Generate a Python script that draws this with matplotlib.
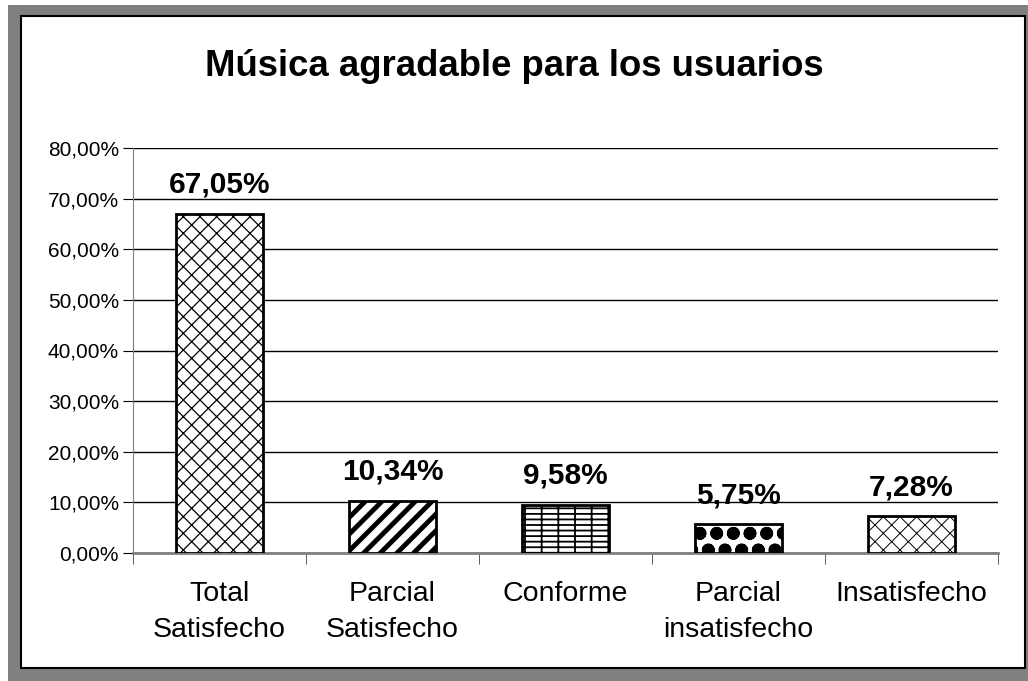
import matplotlib as mpl
import matplotlib.pyplot as plt
from matplotlib.patches import Rectangle
import numpy as np

plt.rcParams['font.family'] = ['Liberation Sans', 'DejaVu Sans']

categories = ['Total\nSatisfecho', 'Parcial\nSatisfecho', 'Conforme',
              'Parcial\ninsatisfecho', 'Insatisfecho']
values = [67.05, 10.34, 9.58, 5.75, 7.28]
labels = ['67,05%', '10,34%', '9,58%', '5,75%', '7,28%']
hatches = ['xx', '//', '---|', 'o', 'xx']
hatch_lw = [0.9, 3.5, 1.3, 4.5, 0.7]
yticks = [0, 10, 20, 30, 40, 50, 60, 70, 80]

W, H = 1028, 681
fig = plt.figure(figsize=(W / 100, H / 100), dpi=100)
fig.patch.set_facecolor('white')
# gray shadow frame and white chart area
fig.patches.append(Rectangle((8 / W, 0), 1 - 8 / W, 1 - 5 / H,
                             transform=fig.transFigure, facecolor='#808080',
                             edgecolor='none', zorder=-6))
fig.patches.append(Rectangle((21 / W, 13 / H), 1004 / W, 652 / H,
                             transform=fig.transFigure, facecolor='white',
                             edgecolor='black', linewidth=1.5, zorder=-5))

ax = fig.add_axes([133 / W, 128 / H, 865 / W, 405 / H])
ax.set_facecolor('none')
x = np.arange(len(categories))
for i, v in enumerate(values):
    with mpl.rc_context({'hatch.linewidth': hatch_lw[i]}):
        ax.bar(x[i], v, width=0.5, facecolor='white', edgecolor='black',
               linewidth=2, hatch=hatches[i], zorder=3)
    ax.text(x[i], v + 4.1, labels[i], ha='center', va='baseline',
            fontsize=21.5, fontweight='bold', zorder=4)

ax.set_xlim(-0.5, len(categories) - 0.5)
ax.set_ylim(0, 80)
ax.set_yticks(yticks)
ax.set_yticklabels(['%d,00%%' % t for t in yticks], fontsize=15)
ax.yaxis.grid(True, color='black', linewidth=1.0, zorder=1)
ax.set_xticks(x)
ax.set_xticklabels(categories, fontsize=20.5, linespacing=1.5)
ax.tick_params(axis='x', length=0, pad=20)
ax.set_xticks(np.arange(-0.5, len(categories)), minor=True)
ax.tick_params(axis='x', which='minor', length=8, color='#404040')
ax.tick_params(axis='y', length=7, color='black', pad=3)
for s in ['top', 'right']:
    ax.spines[s].set_visible(False)
ax.spines['left'].set_color('#808080')
ax.spines['bottom'].set_color('#808080')
ax.spines['bottom'].set_linewidth(2)

fig.text(0.5, 1 - 67 / H, 'Música agradable para los usuarios',
         ha='center', va='center', fontsize=26.3, fontweight='bold')

fig.savefig('out.png', dpi=100, facecolor=fig.get_facecolor())
